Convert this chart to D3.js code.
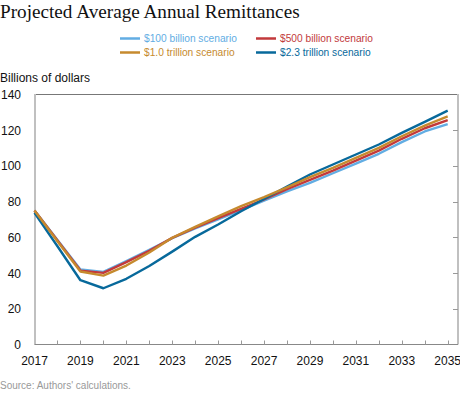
<!DOCTYPE html>
<html lang="en">
<head>
  <meta charset="UTF-8">
  <title>Projected Average Annual Remittances</title>
  <script src="https://cdn.jsdelivr.net/npm/d3@7"></script>
  <style>
    body { margin: 0; background: #fff; }
    svg text { font-family: "Liberation Sans", Arial, sans-serif; }
    .title { font-family: "Liberation Serif", Georgia, serif !important; font-size: 19.2px; fill: #111; }
  </style>
</head>
<body>
  <div id="chart"></div>
  <script>
    // Years on the x axis
    const years = d3.range(2017, 2036);

    // Billions of dollars
    const s100b = [75, 58.5, 42, 40.7, 46.7, 53, 59.5, 65, 70, 75.3, 80.5, 85.8, 90.5, 95.9, 101.3, 106.8, 113.3, 119.3, 123.4];
    const s500b = [75, 58.2, 41.4, 40.1, 46.1, 52.5, 59.7, 65.5, 70.8, 76, 81.2, 87, 92.2, 97.4, 103, 108.6, 115.2, 121.1, 125.6];
    const s1t   = [75, 57.8, 40.9, 38.6, 44.2, 51.5, 59.8, 65.9, 71.8, 77.5, 82.5, 88, 93.7, 98.9, 104.5, 110.1, 116.6, 122.6, 127.7];
    const s23t  = [73.7, 55, 36, 31.5, 36.8, 44, 52, 60.3, 67.2, 74.6, 81.5, 88.5, 95.2, 100.8, 106.4, 112, 118.5, 124.7, 131];

    const seriesNames = ['$100 billion scenario', '$500 billion scenario', '$1.0 trillion scenario', '$2.3 trillion scenario'];
    const seriesColors = ['#62ade3', '#c2393b', '#c68a2e', '#07699b'];
    const seriesValues = [s100b, s500b, s1t, s23t];

    const yTicks = [0, 20, 40, 60, 80, 100, 120, 140];
    const xLabels = [2017, 2019, 2021, 2023, 2025, 2027, 2029, 2031, 2033, 2035];

    const width = 460, height = 394;
    const plotLeft = 34.5, plotRight = 458, plotTop = 94.5, plotBottom = 344.5;

    const svg = d3.select('#chart').append('svg')
      .attr('width', width)
      .attr('height', height);

    const x = d3.scaleLinear().domain([2017, 2035]).range([plotLeft, 447.7]);
    const y = d3.scaleLinear().domain([0, 140]).range([plotBottom, plotTop]);

    // Title
    svg.append('text')
      .attr('class', 'title')
      .attr('x', 0).attr('y', 18)
      .text('Projected Average Annual Remittances');

    // Legend (two columns, two rows)
    const legend = svg.append('g');
    seriesNames.forEach((name, i) => {
      const lx = i % 2 === 0 ? 120 : 256;
      const ly = i < 2 ? 38.5 : 52.5;
      legend.append('line')
        .attr('x1', lx).attr('x2', lx + 20)
        .attr('y1', ly).attr('y2', ly)
        .style('stroke', seriesColors[i])
        .style('stroke-width', 2.5);
      legend.append('text')
        .attr('x', lx + 24).attr('y', ly + 3.5)
        .style('font-size', '10.2px')
        .style('fill', seriesColors[i])
        .text(name);
    });

    // Axis title
    svg.append('text')
      .attr('x', 0).attr('y', 82)
      .style('font-size', '12px')
      .style('fill', '#111')
      .text('Billions of dollars');

    // Frame
    svg.append('line')
      .attr('x1', plotLeft).attr('x2', plotRight)
      .attr('y1', plotTop).attr('y2', plotTop)
      .style('stroke', '#777').style('stroke-width', 1);
    [plotLeft + 0.5, plotRight].forEach(fx => {
      svg.append('line')
        .attr('x1', fx).attr('x2', fx)
        .attr('y1', plotTop - 0.5).attr('y2', plotBottom)
        .style('stroke', '#c0c0c0').style('stroke-width', 2);
    });

    // Right-side y ticks (inside the frame)
    svg.append('g')
      .selectAll('line')
      .data(yTicks.filter(d => d > 0 && d < 140))
      .enter()
      .append('line')
        .attr('x1', plotRight - 5).attr('x2', plotRight)
        .attr('y1', d => Math.round(y(d)) + 0.5)
        .attr('y2', d => Math.round(y(d)) + 0.5)
        .style('stroke', '#999');

    // Y labels
    svg.append('g')
      .selectAll('text')
      .data(yTicks)
      .enter()
      .append('text')
        .attr('x', 21)
        .attr('y', d => y(d) + 4.5)
        .attr('text-anchor', 'end')
        .style('font-size', '12px')
        .style('fill', '#111')
        .text(d => d);

    // Bottom axis line and yearly ticks
    svg.append('line')
      .attr('x1', plotLeft).attr('x2', plotRight)
      .attr('y1', plotBottom).attr('y2', plotBottom)
      .style('stroke', '#888').style('stroke-width', 1);
    svg.append('g')
      .selectAll('line')
      .data(years.slice(1))
      .enter()
      .append('line')
        .attr('x1', d => Math.round(x(d)) + 0.5)
        .attr('x2', d => Math.round(x(d)) + 0.5)
        .attr('y1', plotBottom - 4).attr('y2', plotBottom)
        .style('stroke', '#999');

    // X labels
    svg.append('g')
      .selectAll('text')
      .data(xLabels)
      .enter()
      .append('text')
        .attr('x', d => x(d))
        .attr('y', 365)
        .attr('text-anchor', 'middle')
        .style('font-size', '12px')
        .style('fill', '#111')
        .text(d => d);

    // Series lines
    const line = d3.line()
      .x((d, i) => x(years[i]))
      .y(d => y(d));

    const drawOrder = [0, 1, 3, 2];
    svg.append('g')
      .selectAll('path')
      .data(drawOrder)
      .enter()
      .append('path')
        .attr('d', i => line(seriesValues[i]))
        .style('fill', 'none')
        .style('stroke', i => seriesColors[i])
        .style('stroke-width', 2.4)
        .style('stroke-linejoin', 'round');

    // Source note
    svg.append('text')
      .attr('x', 0).attr('y', 389)
      .style('font-size', '10px')
      .style('fill', '#999')
      .text("Source: Authors' calculations.");
  </script>
</body>
</html>
